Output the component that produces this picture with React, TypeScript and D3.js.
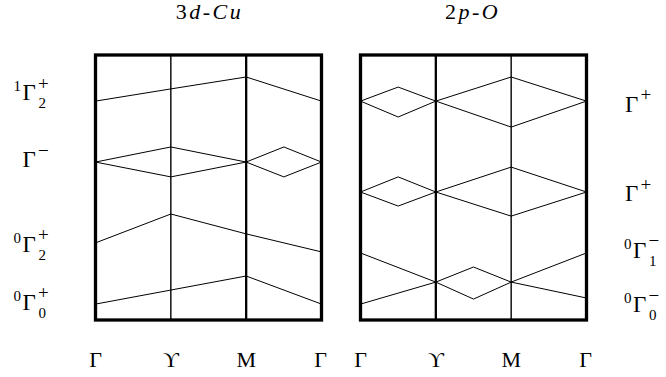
import * as d3 from "d3";

// k-path ticks (x positions in path units)
const kLabels = ["Γ", "ϒ", "M", "Γ"];
const kTicks = [0, 1, 2, 3];

// band energies (arbitrary units), [k, E] pairs
const cuBand1: [number, number][] = [[0, 8.26], [1, 8.72], [2, 9.17], [3, 8.26]];
const cuBand2: [number, number][] = [[0, 5.96], [1, 6.53], [2, 5.96], [2.5, 6.53], [3, 5.96]];
const cuBand3: [number, number][] = [[0, 5.96], [1, 5.4], [2, 5.96], [2.5, 5.4], [3, 5.96]];
const cuBand4: [number, number][] = [[0, 2.91], [1, 4.0], [2, 3.25], [3, 2.57]];
const cuBand5: [number, number][] = [[0, 0.6], [1, 1.13], [2, 1.66], [3, 0.6]];

const oBand1: [number, number][] = [[0, 8.26], [0.5, 8.79], [1, 8.26], [2, 9.17], [3, 8.26]];
const oBand2: [number, number][] = [[0, 8.26], [0.5, 7.66], [1, 8.26], [2, 7.28], [3, 8.26]];
const oBand3: [number, number][] = [[0, 4.83], [0.5, 5.4], [1, 4.83], [2, 5.77], [3, 4.83]];
const oBand4: [number, number][] = [[0, 4.83], [0.5, 4.3], [1, 4.83], [2, 3.92], [3, 4.83]];
const oBand5: [number, number][] = [[0, 2.53], [1, 1.43], [1.5, 2.0], [2, 1.43], [3, 2.53]];
const oBand6: [number, number][] = [[0, 0.6], [1, 1.43], [1.5, 0.79], [2, 1.43], [3, 0.83]];

// level labels (baseline energy): [energy, pre-superscript, subscript, superscript]
const cuLevels: [number, string, string, string][] = [
  [8.3, "1", "2", "+"],
  [5.77, "", "", "−"],
  [2.57, "0", "2", "+"],
  [0.38, "0", "0", "+"],
];
const oLevels: [number, string, string, string][] = [
  [7.85, "", "", "+"],
  [4.49, "", "", "+"],
  [2.34, "0", "1", "−"],
  [0.3, "0", "0", "−"],
];

const width = 666,
  height = 377,
  top = 55,
  bottom = 320;

const font = "Liberation Serif, DejaVu Serif, serif";

const y = d3.scaleLinear([0, 10], [bottom, top]);

const Label = ({ x, e, pre, sub, sup }: any) => {
  const base = y(e);
  return (
    <g style={{ fontFamily: font }} fill="#000">
      {pre && (
        <text x={x - 1.5} y={base - 9} fontSize={15} textAnchor="end">
          {pre}
        </text>
      )}
      <text x={x} y={base} fontSize={23}>Γ</text>
      {sub && (
        <text x={x + 16} y={base + 8} fontSize={15}>{sub}</text>
      )}
      <text x={x + 15.5} y={base - 10.5} fontSize={19}>{sup}</text>
    </g>
  );
};

const Panel = ({ x0, x1, bands, thickAt, title, titleShift }: any) => {
  const x = d3.scaleLinear([0, 3], [x0, x1]);
  const line = d3.line<[number, number]>((d) => x(d[0]), (d) => y(d[1]));
  return (
    <g>
      <text
        x={(x0 + x1) / 2 + titleShift}
        y={19}
        fontSize={22}
        letterSpacing={2.5}
        style={{ fontFamily: font }}
        textAnchor="middle"
      >
        {title}
      </text>
      {kTicks.slice(1, 3).map((k) => (
        <line
          key={k}
          x1={x(k)}
          x2={x(k)}
          y1={top}
          y2={bottom}
          stroke="#000"
          strokeWidth={k === thickAt ? 2.3 : 1.4}
        />
      ))}
      {bands.map((b: [number, number][], i: number) => (
        <path key={i} d={line(b) ?? ""} fill="none" stroke="#000" strokeWidth={1} />
      ))}
      <rect
        x={x0}
        y={top}
        width={x1 - x0}
        height={bottom - top}
        fill="none"
        stroke="#000"
        strokeWidth={3.3}
      />
      {kTicks.map((k, i) => (
        <text
          key={i}
          x={x(k) - (i === 3 ? 1 : 0)}
          y={367}
          fontSize={22}
          style={{ fontFamily: font }}
          textAnchor="middle"
        >
          {kLabels[i]}
        </text>
      ))}
    </g>
  );
};

export default function App() {
  return (
    <svg
      width={width}
      height={height}
      style={{ position: "absolute", left: 0, top: 0, background: "#fff" }}
    >
      <Panel
        x0={95.5}
        x1={321.5}
        thickAt={2}
        titleShift={1}
        bands={[cuBand1, cuBand2, cuBand3, cuBand4, cuBand5]}
        title={
          <>
            3<tspan fontStyle="italic">d</tspan>-<tspan fontStyle="italic">Cu</tspan>
          </>
        }
      />
      <Panel
        x0={360.5}
        x1={586.5}
        thickAt={1}
        titleShift={-1}
        bands={[oBand1, oBand2, oBand3, oBand4, oBand5, oBand6]}
        title={
          <>
            2<tspan fontStyle="italic">p</tspan>-<tspan fontStyle="italic">O</tspan>
          </>
        }
      />
      {cuLevels.map(([e, pre, sub, sup], i) => (
        <Label key={i} x={22.5} e={e} pre={pre} sub={sub} sup={sup} />
      ))}
      {oLevels.map(([e, pre, sub, sup], i) => (
        <Label key={i} x={pre ? 633 : 625} e={e} pre={pre} sub={sub} sup={sup} />
      ))}
    </svg>
  );
}
